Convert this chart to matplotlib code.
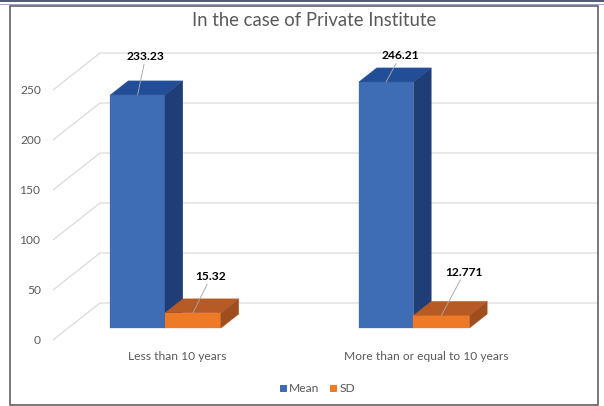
import matplotlib
matplotlib.use("Agg")
import matplotlib.pyplot as plt
from matplotlib.patches import Polygon, Rectangle
from matplotlib.lines import Line2D

# ---- data -------------------------------------------------------------
categories = ["Less than 10 years", "More than or equal to 10 years"]
series_names = ["Mean", "SD"]
mean_values = [233.23, 246.21]
sd_values = [15.32, 12.771]
y_ticks = [0, 50, 100, 150, 200, 250]
title = "In the case of Private Institute"

# ---- styling ----------------------------------------------------------
plt.rcParams["font.family"] = ["Lato", "DejaVu Sans"]
TEXT = "#595959"
GRID = "#D9D9D9"
LEADER = "#A6A6A6"
face_colors = {
    "Mean": ("#3F6DB5", "#214E97", "#1F3D77"),   # front, top, side
    "SD": ("#EE7A28", "#B65A26", "#A04E1E"),
}
bar_layout = {"Mean": (-0.33, 0.22), "SD": (-0.11, 0.225)}  # left offset, width
BAR_DEPTH = (0.32, 0.70)          # fraction of the floor depth occupied by bars
DEPTH_PX = (47, 37)               # oblique projection of the full depth, pixels
label_offsets = {                 # data label offsets (pixels) from bar top
    "Mean": [(8, 38), (14, 26)],
    "SD": [(18, 36), (23, 43)],
}

DPI = 72
W, H = 604, 406
fig = plt.figure(figsize=(W / DPI, H / DPI), dpi=DPI)
fig.patch.set_facecolor("white")

# the axes box is the front edge of the floor / left wall
ax = fig.add_axes([53 / W, (H - 340) / H, 497 / W, 250 / H])
ax.set_xlim(-0.5, 1.5)
ax.set_ylim(0, 250)
ax.axis("off")

x_per_px = (ax.get_xlim()[1] - ax.get_xlim()[0]) / 497
y_per_px = (ax.get_ylim()[1] - ax.get_ylim()[0]) / 250
DX = DEPTH_PX[0] * x_per_px
DY = DEPTH_PX[1] * y_per_px


def pt(x, y, d):
    """Project a point at depth d (0 = front, 1 = back wall)."""
    return (x + d * DX, y + d * DY)


# gridlines: diagonal on the left wall, then across the back wall
xmin, xmax = ax.get_xlim()
for v in y_ticks:
    p0, p1, p2 = pt(xmin, v, 0), pt(xmin, v, 1), pt(xmax, v, 1)
    ax.plot([p0[0], p1[0], p2[0]], [p0[1], p1[1], p2[1]], color=GRID, lw=1.2,
            clip_on=False, zorder=0, solid_capstyle="butt")
    ax.annotate(str(v), xy=(xmin, v), xytext=(-12, 0), textcoords="offset points",
                ha="right", va="center", fontsize=12, color=TEXT,
                annotation_clip=False)

# bars
d0, d1 = BAR_DEPTH
series_values = {"Mean": mean_values, "SD": sd_values}
for i, cat in enumerate(categories):
    for name in series_names:
        v = series_values[name][i]
        off, w = bar_layout[name]
        x0, x1 = i + off, i + off + w
        front, top, side = face_colors[name]
        polys = [
            ([pt(x0, 0, d0), pt(x1, 0, d0), pt(x1, v, d0), pt(x0, v, d0)], front),
            ([pt(x0, v, d0), pt(x1, v, d0), pt(x1, v, d1), pt(x0, v, d1)], top),
            ([pt(x1, 0, d0), pt(x1, 0, d1), pt(x1, v, d1), pt(x1, v, d0)], side),
        ]
        for verts, col in polys:
            ax.add_patch(Polygon(verts, closed=True, facecolor=col, edgecolor=col,
                                 lw=0.3, clip_on=False, zorder=2))
        # data label with leader line
        anchor = pt((x0 + x1) / 2, v, d0)
        dx, dy = label_offsets[name][i]
        ax.annotate(str(v), xy=anchor, xytext=(dx, dy), textcoords="offset points",
                    ha="center", va="center", fontsize=12, fontweight="bold",
                    color="black", zorder=5, annotation_clip=False,
                    arrowprops=dict(arrowstyle="-", color=LEADER, lw=0.9,
                                    shrinkA=0, shrinkB=0))

    ax.annotate(cat, xy=(i, 0), xytext=(0, -17), textcoords="offset points",
                ha="center", va="center", fontsize=12, color=TEXT,
                annotation_clip=False)

# legend
handles = [Line2D([], [], marker="s", linestyle="none", markersize=6.5,
                  markerfacecolor=face_colors[n][0], markeredgecolor=face_colors[n][0])
           for n in series_names]
leg = fig.legend(handles, series_names, loc="center",
                 bbox_to_anchor=(317 / W, 1 - 389 / H), ncol=2, frameon=False,
                 fontsize=12, handlelength=0.6, handletextpad=0.2,
                 columnspacing=0.9, borderaxespad=0)
for t in leg.get_texts():
    t.set_color(TEXT)

# title
fig.text(314 / W, 1 - 20 / H, title, ha="center", va="center",
         fontsize=18.5, color=TEXT)

# chart frame and page rule
fig.add_artist(Rectangle((10 / W, 1 - 405 / H), 588 / W, 399 / H,
                         transform=fig.transFigure, fill=False,
                         edgecolor="#5A5A5A", lw=1.6))
fig.add_artist(Line2D([0, 1], [1 - 1.2 / H, 1 - 1.2 / H], transform=fig.transFigure,
                      color="#263066", lw=1.6))
fig.add_artist(Line2D([0, 1], [1 - 3.6 / H, 1 - 3.6 / H], transform=fig.transFigure,
                      color="#8A8FA8", lw=0.8))

fig.savefig("out.png", dpi=DPI)
